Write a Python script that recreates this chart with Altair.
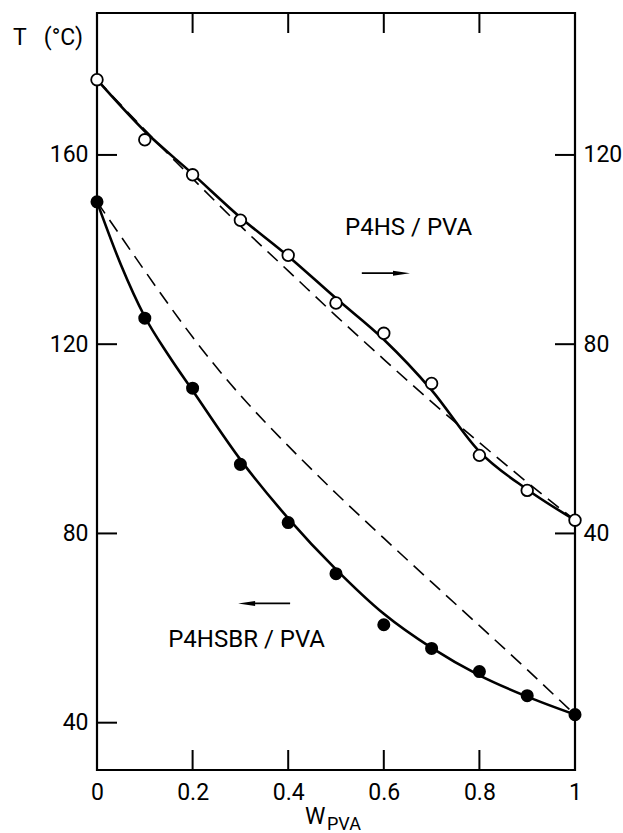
import altair as alt
import pandas as pd

# ---- data ----
w_pts = [0.0, 0.1, 0.2, 0.3, 0.4, 0.5, 0.6, 0.7, 0.8, 0.9, 1.0]
# P4HSBR / PVA (filled circles, left axis, °C)
p4hsbr_T = [150.1, 125.5, 110.7, 94.6, 82.3, 71.5, 60.7, 55.7, 50.8, 45.7, 41.7]
# P4HS / PVA (open circles, right axis, °C)
p4hs_T = [135.9, 123.2, 115.8, 106.2, 98.8, 88.7, 82.3, 71.7, 56.5, 49.1, 42.8]

# smooth fitted (solid) and calculated (dashed) curves
w_low_solid = [0.0, 0.05, 0.1, 0.15, 0.2, 0.3, 0.4, 0.5, 0.6, 0.7, 0.8, 0.9, 1.0]
low_solid = [150.1, 136.8, 125.8, 117.6, 110.2, 95.6, 83.2, 72.4, 63.0, 55.8, 50.0, 45.5, 41.7]
w_low_dash = [0.0, 0.1, 0.2, 0.3, 0.4, 0.5, 0.6, 0.7, 0.8, 0.9, 1.0]
low_dash = [150.1, 135.5, 121.5, 109.2, 98.5, 88.5, 79.0, 69.7, 60.5, 51.2, 41.7]

w_up = [0.0, 0.1, 0.2, 0.3, 0.4, 0.5, 0.6, 0.7, 0.8, 0.9, 1.0]
up_solid = [135.9, 125.0, 116.0, 106.8, 98.6, 89.7, 81.0, 70.3, 57.3, 49.3, 42.8]
up_dash = [135.9, 125.3, 115.0, 105.0, 95.5, 86.0, 76.8, 67.8, 59.2, 50.8, 42.8]

left_ticks = [40, 80, 120, 160]
right_ticks = [40, 80, 120]
x_ticks = [0.2, 0.4, 0.6, 0.8]
x_labels = [0, 0.2, 0.4, 0.6, 0.8, 1]

FONT = "Roboto"
W, H = 478, 757

xs = alt.Scale(domain=[0, 1], nice=False, zero=False)
x_axis = alt.Axis(values=x_labels, format="~g", ticks=False, tickSize=0, domain=False, grid=False,
                  labelFont=FONT, labelFontSize=23, labelColor="black", labelPadding=11,
                  labelFlush=False, labelOverlap=False, title=None)
ls = alt.Scale(domain=[30, 190], nice=False, zero=False)
l_axis = alt.Axis(orient="left", values=left_ticks, ticks=False, tickSize=0, domain=False, grid=False,
                  labelFont=FONT, labelFontSize=23, labelColor="black", labelPadding=9,
                  labelBaseline="middle", title=None)
rs = alt.Scale(domain=[-10, 150], nice=False, zero=False)
r_axis = alt.Axis(orient="right", values=right_ticks, ticks=False, tickSize=0, domain=False, grid=False,
                  labelFont=FONT, labelFontSize=23, labelColor="black", labelPadding=8,
                  labelBaseline="middle", title=None)

X = lambda f="w": alt.X(f"{f}:Q", scale=xs, axis=x_axis)
YL = lambda f="T": alt.Y(f"{f}:Q", scale=ls, axis=l_axis)
YR = lambda f="T": alt.Y(f"{f}:Q", scale=rs, axis=r_axis)

df_low_pts = pd.DataFrame({"w": w_pts, "T": p4hsbr_T})
df_up_pts = pd.DataFrame({"w": w_pts, "T": p4hs_T})
df_low_solid = pd.DataFrame({"w": w_low_solid, "T": low_solid})
df_low_dash = pd.DataFrame({"w": w_low_dash, "T": low_dash})
df_up_solid = pd.DataFrame({"w": w_up, "T": up_solid})
df_up_dash = pd.DataFrame({"w": w_up, "T": up_dash})

# ---- left (P4HSBR/PVA) group ----
lo_dash = alt.Chart(df_low_dash).mark_line(color="black", strokeWidth=1.6, strokeDash=[14, 8],
                                           interpolate="natural").encode(x=X(), y=YL())
lo_solid = alt.Chart(df_low_solid).mark_line(color="black", strokeWidth=2.6,
                                             interpolate="monotone").encode(x=X(), y=YL())
lo_pts = alt.Chart(df_low_pts).mark_point(shape="circle", filled=True, color="black", size=170,
                                          opacity=1).encode(x=X(), y=YL())
lt = alt.Chart(pd.DataFrame({"T": left_ticks})).mark_rule(color="black", strokeWidth=2).encode(
    y=YL(), x=alt.value(0), x2=alt.value(20))
tt = alt.Chart(pd.DataFrame({"w": x_ticks})).mark_rule(color="black", strokeWidth=2).encode(
    x=X(), y=alt.value(0), y2=alt.value(20))
bt = alt.Chart(pd.DataFrame({"w": x_ticks})).mark_rule(color="black", strokeWidth=2).encode(
    x=X(), y=alt.value(H), y2=alt.value(H - 20))

# annotations
ann = pd.DataFrame({"w": [0.519, 0.149], "T": [143.1, 55.9], "t": ["P4HS / PVA", "P4HSBR / PVA"]})
ann_text = alt.Chart(ann).mark_text(font=FONT, fontSize=24, align="left", baseline="alphabetic",
                                    color="black").encode(x=X(), y=YL(), text="t:N")
arrow_lines = pd.DataFrame({"w": [0.554, 0.404], "w2": [0.636, 0.318], "T": [135.0, 65.2]})
arr_rule = alt.Chart(arrow_lines).mark_rule(color="black", strokeWidth=1.8).encode(
    x=X(), x2="w2:Q", y=YL())
head_r = alt.Chart(pd.DataFrame({"w": [0.637], "T": [135.0]})).mark_point(
    shape="M-1,-0.3L1,0L-1,0.3Z", filled=True, color="black", size=289, opacity=1).encode(x=X(), y=YL())
head_l = alt.Chart(pd.DataFrame({"w": [0.313], "T": [65.2]})).mark_point(
    shape="M1,-0.3L-1,0L1,0.3Z", filled=True, color="black", size=289, opacity=1).encode(x=X(), y=YL())

ytitle = alt.Chart(pd.DataFrame({"t": ["T\u00a0\u00a0\u00a0(°C)"]})).mark_text(
    font=FONT, fontSize=23, align="left", baseline="middle", color="black").encode(
    x=alt.value(-84), y=alt.value(25), text="t:N")
xtitle_w = alt.Chart(pd.DataFrame({"t": ["W"]})).mark_text(
    font=FONT, fontSize=23, align="left", baseline="alphabetic", color="black").encode(
    x=alt.value(208), y=alt.value(811), text="t:N")
xtitle_sub = alt.Chart(pd.DataFrame({"t": ["PVA"]})).mark_text(
    font=FONT, fontSize=18, align="left", baseline="alphabetic", color="black").encode(
    x=alt.value(230), y=alt.value(817), text="t:N")

left = alt.layer(lo_dash, lo_solid, lo_pts, lt, tt, bt, ann_text, arr_rule, head_r, head_l,
                 ytitle, xtitle_w, xtitle_sub)

# ---- right (P4HS/PVA) group ----
up_d = alt.Chart(df_up_dash).mark_line(color="black", strokeWidth=1.6, strokeDash=[14, 8],
                                       interpolate="natural").encode(x=X(), y=YR())
up_s = alt.Chart(df_up_solid).mark_line(color="black", strokeWidth=2.6,
                                        interpolate="monotone").encode(x=X(), y=YR())
up_p = alt.Chart(df_up_pts).mark_point(shape="circle", filled=True, fill="white", stroke="black",
                                       strokeWidth=1.8, size=135, opacity=1).encode(x=X(), y=YR())
rt = alt.Chart(pd.DataFrame({"T": right_ticks})).mark_rule(color="black", strokeWidth=2).encode(
    y=YR(), x=alt.value(W - 20), x2=alt.value(W))
right = alt.layer(up_d, up_s, up_p, rt)

chart = alt.layer(left, right).resolve_scale(y="independent").properties(
    width=W, height=H,
    autosize=alt.AutoSizeParams(type="none"),
    padding={"left": 97, "top": 13, "right": 48, "bottom": 63},
    background="white",
).configure_view(stroke="black", strokeWidth=2.2)

chart.save("out.html", embed_options={"renderer": "svg", "actions": False})
